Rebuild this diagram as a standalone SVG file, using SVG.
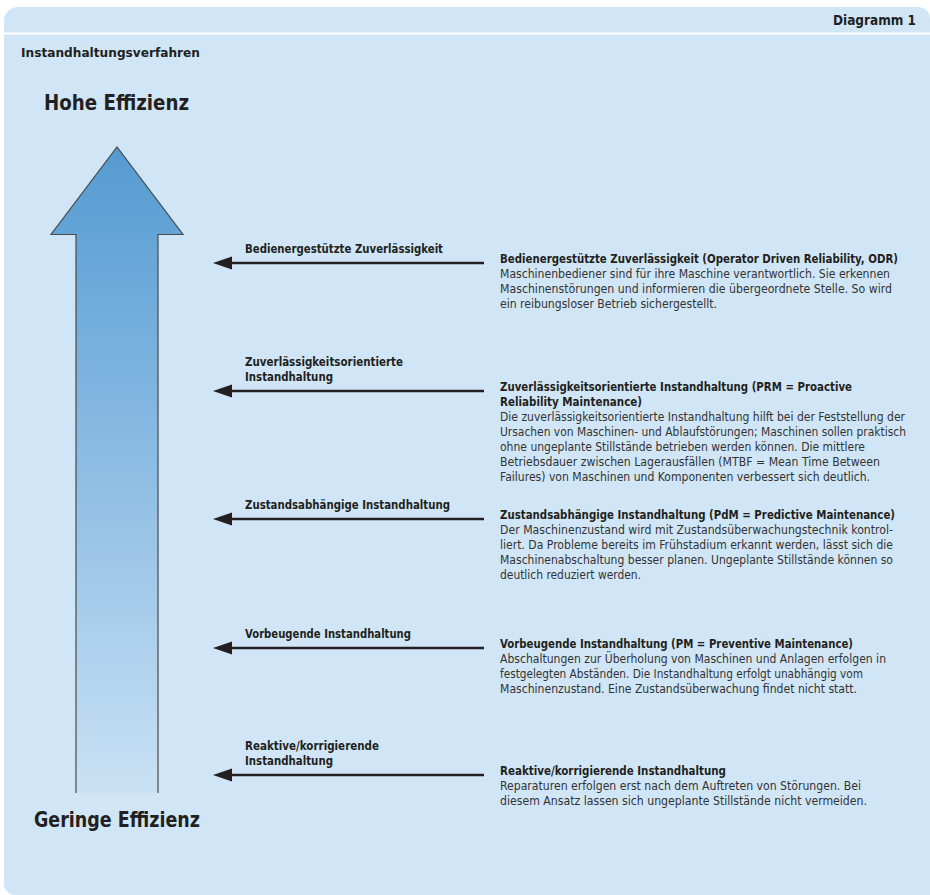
<svg xmlns="http://www.w3.org/2000/svg" width="930" height="895" viewBox="0 0 930 895">
<style>
text{font-family:"DejaVu Sans Condensed","Liberation Sans",sans-serif;fill:#231f20}
.b{font-weight:bold;font-size:12px}
.r{font-size:12px;fill:#333}
.big{font-weight:bold;font-size:22px}
.conn line{stroke:#231f20;stroke-width:2.6}
.conn polygon{fill:#231f20}
</style>
<defs>
<linearGradient id="g" x1="0" y1="147" x2="0" y2="793" gradientUnits="userSpaceOnUse">
<stop offset="0" stop-color="#559bd1"/>
<stop offset="0.5" stop-color="#8dbde4"/>
<stop offset="1" stop-color="#c9e1f4"/>
</linearGradient>
</defs>
<path d="M18,7 H918 A12,12 0 0 1 930,19 V895 H15 A11,11 0 0 1 4,884 V21 A14,14 0 0 1 18,7 Z" fill="#d0e6f6"/>
<rect x="4" y="32.5" width="926" height="2" fill="#ffffff"/>
<text class="b" x="916" y="25" text-anchor="end" style="font-size:14px" textLength="83" lengthAdjust="spacingAndGlyphs">Diagramm 1</text>
<text class="b" x="21" y="57" textLength="179" lengthAdjust="spacingAndGlyphs">Instandhaltungsverfahren</text>
<text class="big" x="44" y="110" textLength="145" lengthAdjust="spacingAndGlyphs">Hohe Effizienz</text>
<text class="big" x="34" y="827" textLength="166" lengthAdjust="spacingAndGlyphs">Geringe Effizienz</text>
<g id="efficiency-arrow">
<path d="M76,793 V234.5 H51 L117,147 L183,234.5 H158 V793" fill="url(#g)" stroke="#4a4a4a" stroke-width="1.2"/>
</g>
<g class="conn" id="connectors">
<line x1="228" y1="263" x2="484" y2="263"/><polygon points="213,263 232,256.5 232,269.5"/>
<line x1="228" y1="391" x2="484" y2="391"/><polygon points="213,391 232,384.5 232,397.5"/>
<line x1="228" y1="519" x2="484" y2="519"/><polygon points="213,519 232,512.5 232,525.5"/>
<line x1="228" y1="648" x2="484" y2="648"/><polygon points="213,648 232,641.5 232,654.5"/>
<line x1="228" y1="775" x2="484" y2="775"/><polygon points="213,775 232,768.5 232,781.5"/>
</g>
<g id="odr">
<text class="b" x="245" y="253" textLength="198" lengthAdjust="spacingAndGlyphs">Bedienergestützte Zuverlässigkeit</text>
<text class="b" x="500" y="263" textLength="398" lengthAdjust="spacingAndGlyphs">Bedienergestützte Zuverlässigkeit (Operator Driven Reliability, ODR)</text>
<text class="r" x="500" y="278" textLength="390" lengthAdjust="spacingAndGlyphs">Maschinenbediener sind für ihre Maschine verantwortlich. Sie erkennen</text>
<text class="r" x="500" y="293" textLength="392" lengthAdjust="spacingAndGlyphs">Maschinenstörungen und informieren die übergeordnete Stelle. So wird</text>
<text class="r" x="500" y="308" textLength="217" lengthAdjust="spacingAndGlyphs">ein reibungsloser Betrieb sichergestellt.</text>
</g>
<g id="prm">
<text class="b" x="245" y="366" textLength="158" lengthAdjust="spacingAndGlyphs">Zuverlässigkeitsorientierte</text>
<text class="b" x="245" y="381" textLength="88" lengthAdjust="spacingAndGlyphs">Instandhaltung</text>
<text class="b" x="500" y="391" textLength="352" lengthAdjust="spacingAndGlyphs">Zuverlässigkeitsorientierte Instandhaltung (PRM = Proactive</text>
<text class="b" x="500" y="406" textLength="142" lengthAdjust="spacingAndGlyphs">Reliability Maintenance)</text>
<text class="r" x="500" y="421" textLength="405" lengthAdjust="spacingAndGlyphs">Die zuverlässigkeitsorientierte Instandhaltung hilft bei der Feststellung der</text>
<text class="r" x="500" y="436" textLength="406" lengthAdjust="spacingAndGlyphs">Ursachen von Maschinen- und Ablaufstörungen; Maschinen sollen praktisch</text>
<text class="r" x="500" y="451" textLength="365" lengthAdjust="spacingAndGlyphs">ohne ungeplante Stillstände betrieben werden können. Die mittlere</text>
<text class="r" x="500" y="466" textLength="380" lengthAdjust="spacingAndGlyphs">Betriebsdauer zwischen Lagerausfällen (MTBF = Mean Time Between</text>
<text class="r" x="500" y="481" textLength="370" lengthAdjust="spacingAndGlyphs">Failures) von Maschinen und Komponenten verbessert sich deutlich.</text>
</g>
<g id="pdm">
<text class="b" x="245" y="509" textLength="205" lengthAdjust="spacingAndGlyphs">Zustandsabhängige Instandhaltung</text>
<text class="b" x="500" y="519" textLength="395" lengthAdjust="spacingAndGlyphs">Zustandsabhängige Instandhaltung (PdM = Predictive Maintenance)</text>
<text class="r" x="500" y="534" textLength="393" lengthAdjust="spacingAndGlyphs">Der Maschinenzustand wird mit Zustandsüberwachungstechnik kontrol-</text>
<text class="r" x="500" y="549" textLength="393" lengthAdjust="spacingAndGlyphs">liert. Da Probleme bereits im Frühstadium erkannt werden, lässt sich die</text>
<text class="r" x="500" y="564" textLength="393" lengthAdjust="spacingAndGlyphs">Maschinenabschaltung besser planen. Ungeplante Stillstände können so</text>
<text class="r" x="500" y="579" textLength="141" lengthAdjust="spacingAndGlyphs">deutlich reduziert werden.</text>
</g>
<g id="pm">
<text class="b" x="245" y="638" textLength="166" lengthAdjust="spacingAndGlyphs">Vorbeugende Instandhaltung</text>
<text class="b" x="500" y="648" textLength="353" lengthAdjust="spacingAndGlyphs">Vorbeugende Instandhaltung (PM = Preventive Maintenance)</text>
<text class="r" x="500" y="663" textLength="386" lengthAdjust="spacingAndGlyphs">Abschaltungen zur Überholung von Maschinen und Anlagen erfolgen in</text>
<text class="r" x="500" y="678" textLength="363" lengthAdjust="spacingAndGlyphs">festgelegten Abständen. Die Instandhaltung erfolgt unabhängig vom</text>
<text class="r" x="500" y="693" textLength="357" lengthAdjust="spacingAndGlyphs">Maschinenzustand. Eine Zustandsüberwachung findet nicht statt.</text>
</g>
<g id="reactive">
<text class="b" x="245" y="750" textLength="134" lengthAdjust="spacingAndGlyphs">Reaktive/korrigierende</text>
<text class="b" x="245" y="765" textLength="88" lengthAdjust="spacingAndGlyphs">Instandhaltung</text>
<text class="b" x="500" y="775" textLength="226" lengthAdjust="spacingAndGlyphs">Reaktive/korrigierende Instandhaltung</text>
<text class="r" x="500" y="790" textLength="361" lengthAdjust="spacingAndGlyphs">Reparaturen erfolgen erst nach dem Auftreten von Störungen. Bei</text>
<text class="r" x="500" y="805" textLength="367" lengthAdjust="spacingAndGlyphs">diesem Ansatz lassen sich ungeplante Stillstände nicht vermeiden.</text>
</g>
</svg>
